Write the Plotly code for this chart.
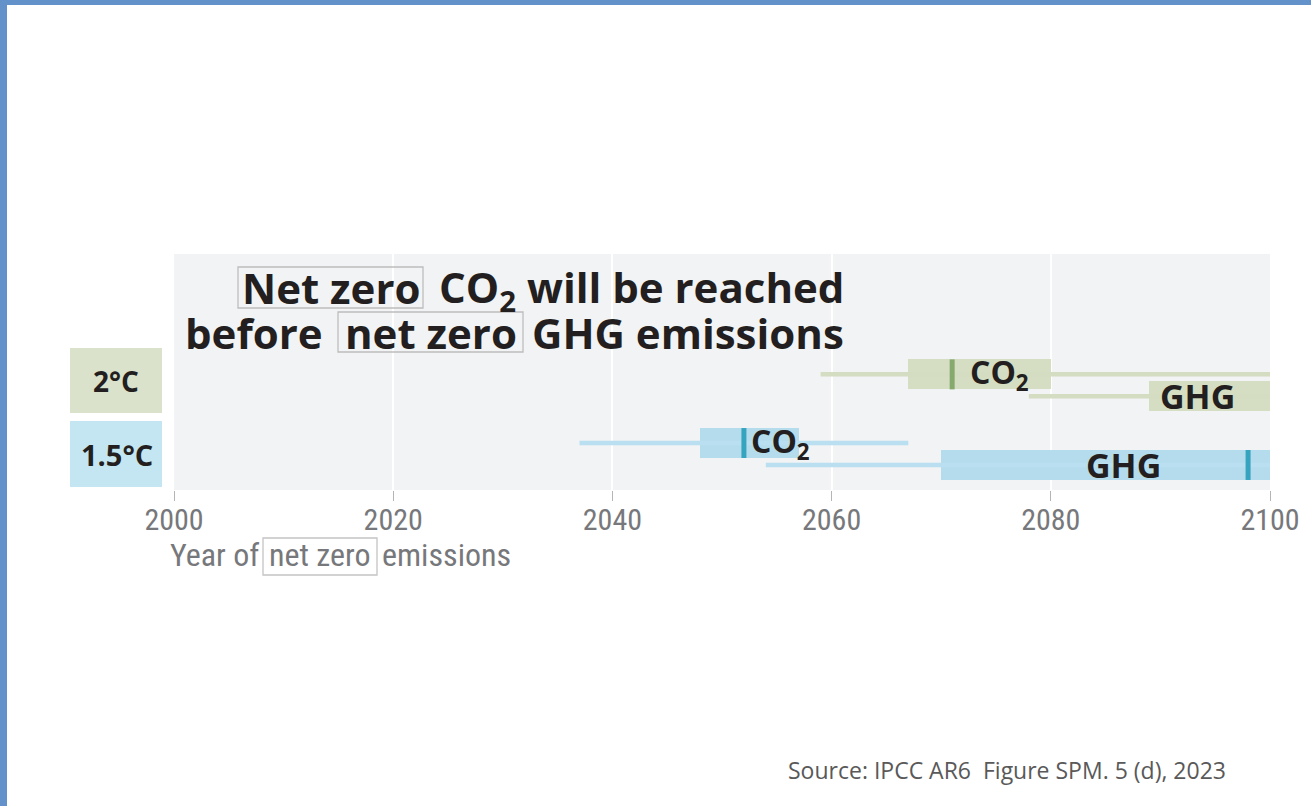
import plotly.graph_objects as go

# ---------------- data ----------------
rows = ["2°C CO2", "2°C GHG", "1.5°C CO2", "1.5°C GHG"]
gas_labels = ["CO<sub>2</sub>", "GHG", "CO<sub>2</sub>", "GHG"]
whisker_low = [2059, 2078, 2037, 2054]
whisker_high = [2100, 2100, 2067, 2100]
box_low = [2067, 2089, 2048, 2070]
box_high = [2080, 2100, 2057, 2100]
median = [2071, None, 2052, 2098]
tick_years = [2000, 2020, 2040, 2060, 2080, 2100]
scenario_labels = ["2°C", "1.5°C"]

# ---------------- layout helpers ----------------
W, H = 1311, 806
L, R, T, B = 174, 1270, 254, 490  # plot area in pixels
PW, PH = R - L, B - T

def px(x):
    return (x - L) / PW

def py(y):
    return (B - y) / PH

row_y = [0.490, 0.397, 0.199, 0.106]
box_h = 0.127
green_box, green_med, green_wh = "#d5dec3", "#86a96e", "#d4dcc1"
blue_box, blue_med, blue_wh = "#b5dcec", "#36a3bf", "#b9dff0"
box_cols = [green_box, green_box, blue_box, blue_box]
med_cols = [green_med, green_med, blue_med, blue_med]
wh_cols = [green_wh, green_wh, blue_wh, blue_wh]
label_x = [2075.3, 2093.4, 2055.3, 2086.6]
label_size = [32, 34, 32, 34]

fig = go.Figure()

# whiskers
for i in range(len(rows)):
    fig.add_trace(go.Scatter(
        x=[whisker_low[i], whisker_high[i]], y=[row_y[i], row_y[i]],
        mode="lines", line=dict(color=wh_cols[i], width=4.5),
        hoverinfo="skip", showlegend=False, cliponaxis=True))

# boxes
for i in range(len(rows)):
    fig.add_trace(go.Bar(
        y=[row_y[i]], x=[box_high[i] - box_low[i]], base=[box_low[i]],
        orientation="h", width=box_h, marker=dict(color=box_cols[i], line=dict(width=0)),
        hoverinfo="skip", showlegend=False))

# medians
for i in range(len(rows)):
    if median[i] is not None:
        fig.add_trace(go.Scatter(
            x=[median[i], median[i]], y=[row_y[i] - box_h / 2, row_y[i] + box_h / 2],
            mode="lines", line=dict(color=med_cols[i], width=5),
            hoverinfo="skip", showlegend=False))

annotations = []
dark = "#231f20"
title_font = "Open Sans"
# gas labels
for i in range(len(rows)):
    annotations.append(dict(
        x=label_x[i], y=row_y[i], xref="x", yref="y", text=gas_labels[i],
        showarrow=False, font=dict(family=title_font, size=label_size[i], color=dark, weight="bold"),
        xanchor="center", yanchor="middle"))

# title segments
def ann_px(text, x, y, xanchor, size, color=dark, bold=True, family=title_font):
    d = dict(x=px(x), y=py(y), xref="paper", yref="paper", text=text, showarrow=False,
             xanchor=xanchor, yanchor="middle",
             font=dict(family=family, size=size, color=color, weight="bold" if bold else "normal"))
    annotations.append(d)

ann_px("Net zero", 330.5, 287, "center", 42)
ann_px("CO<sub>2</sub> will be reached", 846, 289, "right", 42)
ann_px("before", 325, 332, "right", 42)
ann_px("net zero", 430.5, 332, "center", 42)
ann_px("GHG emissions", 846, 332, "right", 42)

# scenario labels
ann_px(scenario_labels[0], 116, 381, "center", 28)
ann_px(scenario_labels[1], 117, 454, "center", 29)

# axis title
axis_font = "Liberation Sans Narrow, Roboto Condensed, DejaVu Sans Condensed, Roboto"
axis_col = "#77787b"
ann_px("Year of", 261, 555, "right", 32, color=axis_col, bold=False, family=axis_font)
ann_px("net zero", 320, 555, "center", 32, color=axis_col, bold=False, family=axis_font)
ann_px("emissions", 380, 555, "left", 32, color=axis_col, bold=False, family=axis_font)

# source
ann_px("Source: IPCC AR6  Figure SPM. 5 (d), 2023", 1228, 770, "right", 23,
       color="#595959", bold=False, family="Open Sans")

shapes = []
def rect_px(x0, y0, x1, y1, fill=None, line=None, lw=1):
    shapes.append(dict(type="rect", xref="paper", yref="paper",
                       x0=px(x0), x1=px(x1), y0=py(y1), y1=py(y0),
                       fillcolor=fill if fill else "rgba(0,0,0,0)",
                       line=dict(color=line if line else "rgba(0,0,0,0)", width=lw if line else 0),
                       layer="above" if fill is None else "below"))

# boxes around "net zero"
rect_px(238, 267, 423, 308, line="#bdbdbd", lw=1.3)
rect_px(338, 312, 523, 352, line="#bdbdbd", lw=1.3)
rect_px(263, 538, 377, 575, line="#c4c4c4", lw=1.3)
# scenario boxes
rect_px(70, 348, 162, 413, fill="#dae2cc")
rect_px(70, 421, 162, 487, fill="#c4e5f2")
# blue frame
rect_px(0, 0, 7, 806, fill="#6391c9")
rect_px(0, 0, 1311, 5, fill="#6391c9")

fig.update_layout(
    width=W, height=H,
    margin=dict(l=L, r=W - R, t=T, b=H - B, pad=0),
    paper_bgcolor="white", plot_bgcolor="#f2f3f5",
    barmode="overlay", bargap=0,
    annotations=annotations, shapes=shapes,
    showlegend=False,
    xaxis=dict(range=[2000, 2100], tickvals=tick_years, ticktext=[str(t) for t in tick_years],
               showgrid=True, gridcolor="white", gridwidth=2,
               ticks="outside", ticklen=10, tickcolor="#b5b5b5", tickwidth=1,
               ticklabelstandoff=-7,
               tickfont=dict(family=axis_font, size=30, color=axis_col),
               zeroline=False, showline=False, fixedrange=True),
    yaxis=dict(range=[0, 1], visible=False, showgrid=False, zeroline=False, fixedrange=True),
)

fig.write_html("out.html", config={"displayModeBar": False},
               post_script="document.body.style.margin='0';document.body.style.overflow='hidden';")
